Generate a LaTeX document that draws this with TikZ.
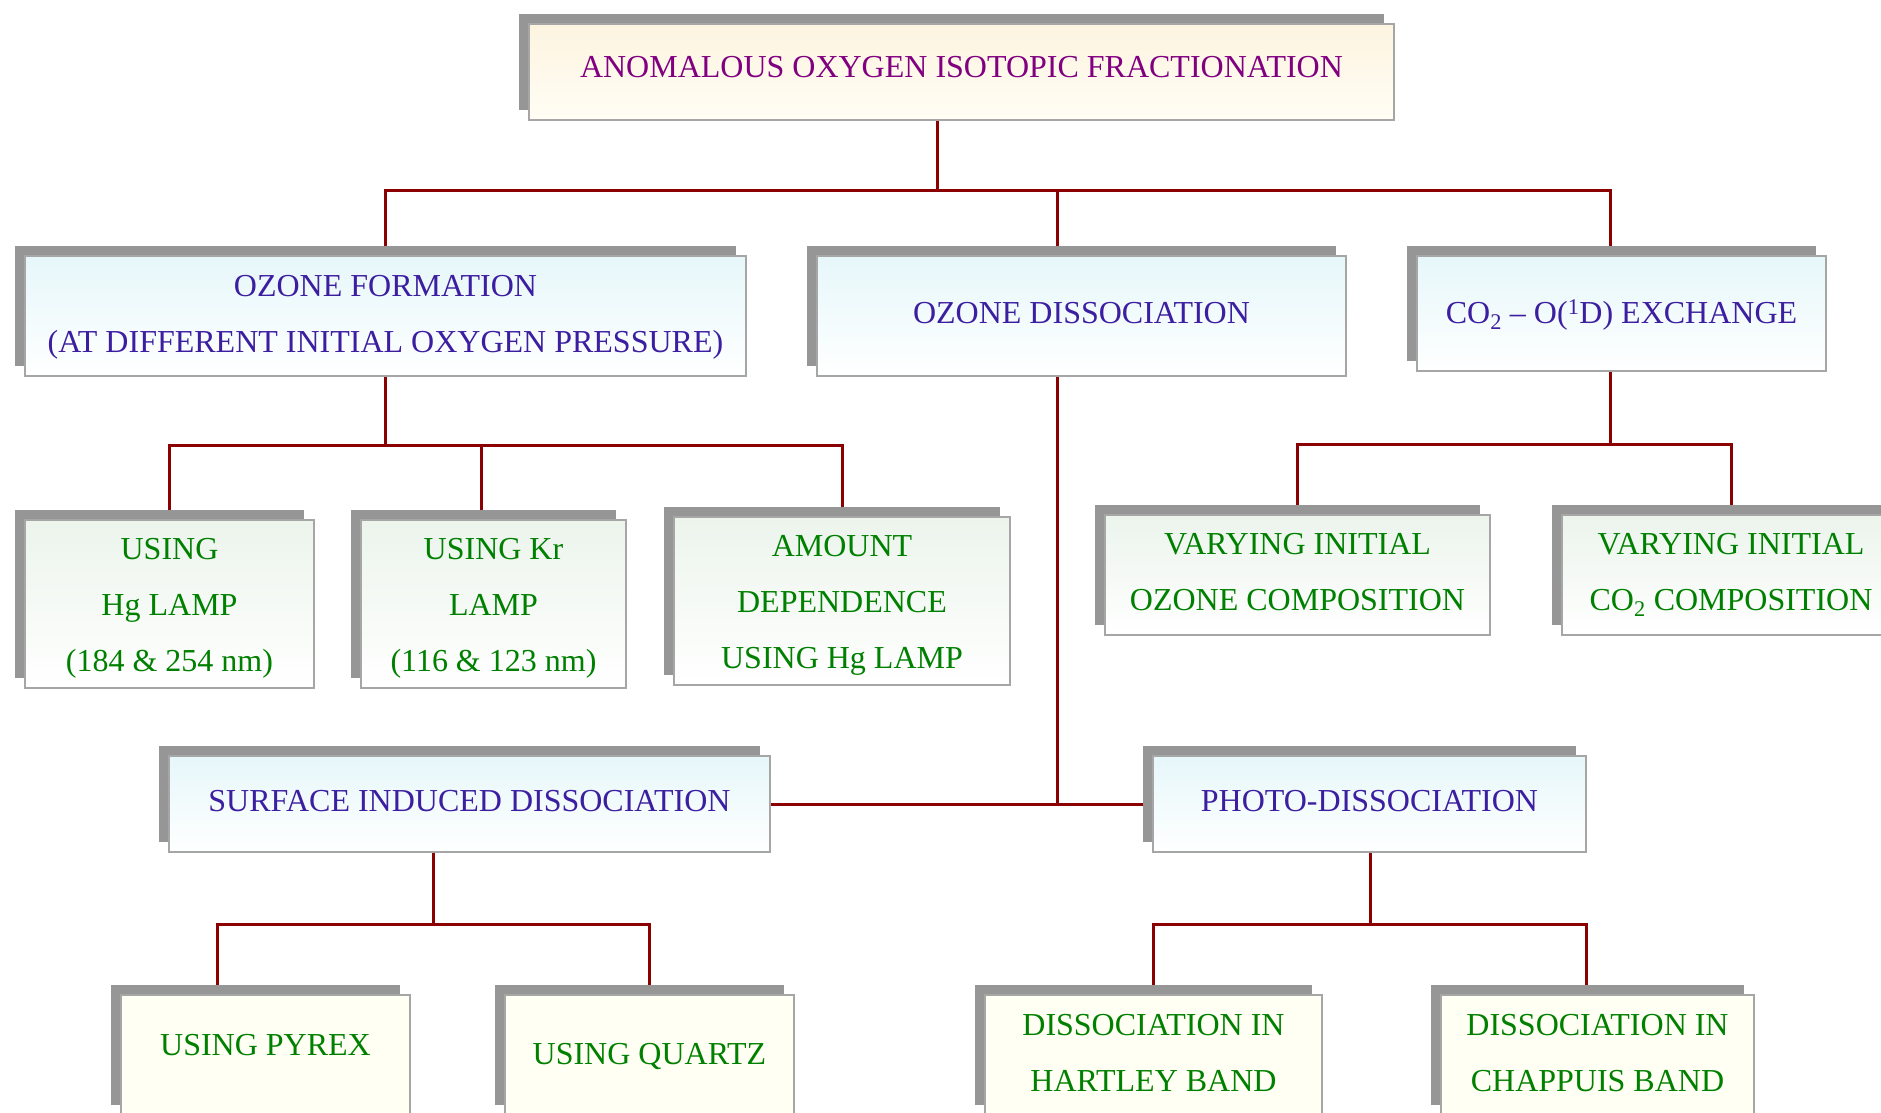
\documentclass[tikz,border=0pt]{standalone}
\usepackage{fontspec}
\setmainfont{Liberation Serif}
\usetikzlibrary{shadows,backgrounds}
\definecolor{connred}{RGB}{139,0,0}
\definecolor{bord}{RGB}{166,166,166}
\definecolor{shad}{RGB}{150,150,150}
\definecolor{tpurple}{RGB}{128,0,128}
\definecolor{tblue}{RGB}{60,30,160}
\definecolor{tgreen}{RGB}{0,128,0}
\definecolor{creamtop}{RGB}{253,244,224}
\definecolor{creambot}{RGB}{255,253,245}
\definecolor{cyantop}{RGB}{230,247,250}
\definecolor{greentop}{RGB}{236,244,236}
\definecolor{ivory}{RGB}{255,255,243}
\tikzset{
  conn/.style={draw=connred, line width=3pt},
  boxwh/.style 2 args={minimum width=#1pt, minimum height=#2pt},
  tb/.style={text height=#1pt, text depth=0pt},
  basebox/.style={rectangle, draw=bord, line width=1.5pt, inner sep=0pt, align=center,
    font=\fontsize{32}{56}\selectfont,
    drop shadow={shadow xshift=-10pt, shadow yshift=10pt, fill=shad, opacity=1}},
  topbox/.style={basebox, top color=creamtop, bottom color=creambot, text=tpurple},
  midbox/.style={basebox, top color=cyantop, bottom color=white, text=tblue},
  leafbox/.style={basebox, top color=greentop, bottom color=white, text=tgreen},
  lowbox/.style={basebox, fill=ivory, text=tgreen},
}
\begin{document}
\begin{tikzpicture}[x=1pt,y=-1pt]
\useasboundingbox (0,0) rectangle (1881,1112);
\clip (0,0) rectangle (1881,1112);

% level 1
\node[topbox, boxwh={865}{96}, tb=11] (top) at (961.5,72) {ANOMALOUS OXYGEN ISOTOPIC FRACTIONATION};

% level 2
\node[midbox, boxwh={721}{120}, tb=73] (of) at (385.5,316) {OZONE FORMATION\\(AT DIFFERENT INITIAL OXYGEN PRESSURE)};
\node[midbox, boxwh={529}{120}, tb=15] (od) at (1081.5,316) {OZONE DISSOCIATION};
\node[midbox, boxwh={409}{115}, tb=20] (co2) at (1621.5,313.5) {CO\textsubscript{2} -- O(\textsuperscript{1}D) EXCHANGE};

% level 3
\node[leafbox, boxwh={289}{168}, tb=135] (hg) at (169.5,604) {USING\\Hg LAMP\\(184 \& 254 nm)};
\node[leafbox, boxwh={265}{168}, tb=135] (kr) at (493.5,604) {USING Kr\\LAMP\\(116 \& 123 nm)};
\node[leafbox, boxwh={336}{168}, tb=134] (am) at (842,601) {AMOUNT\\DEPENDENCE\\USING Hg LAMP};
\node[leafbox, boxwh={385}{120}, tb=71] (oc) at (1297.5,575) {VARYING INITIAL\\OZONE COMPOSITION};
\node[leafbox, boxwh={338}{120}, tb=71] (cc) at (1731,575) {VARYING INITIAL\\CO\textsubscript{2} COMPOSITION};

% dissociation branches
\node[midbox, boxwh={601}{96}, tb=14] (si) at (469.5,804) {SURFACE INDUCED DISSOCIATION};
\node[midbox, boxwh={433}{96}, tb=14] (ph) at (1369.5,804) {PHOTO-DISSOCIATION};

% bottom
\node[lowbox, boxwh={289}{120}, tb=1] (py) at (265.5,1055) {USING PYREX};
\node[lowbox, boxwh={289}{120}, tb=18] (qu) at (649.5,1055) {USING QUARTZ};
\node[lowbox, boxwh={337}{120}, tb=73] (ha) at (1153.5,1055) {DISSOCIATION IN\\HARTLEY BAND};
\node[lowbox, boxwh={313}{120}, tb=73] (ch) at (1597.5,1055) {DISSOCIATION IN\\CHAPPUIS BAND};

\begin{scope}[on background layer]
\fill[white] (0,0) rectangle (1881,1112);
\coordinate (a0) at (937,190);
\coordinate (a2) at (1057,190);
\coordinate (a3) at (1610,190);
\draw[conn] (a0 |- top.south) -- (a0);
\draw[conn] (of.north) |- (a3) -- (a3 |- co2.north);
\draw[conn] (a2) -- (a2 |- od.north);

\coordinate (b0) at (385.5,445);
\coordinate (b2) at (481,445);
\draw[conn] (of.south) -- (b0);
\draw[conn] (hg.north) |- (b0) -- (b0 -| am.north) -- (am.north);
\draw[conn] (b2) -- (b2 |- kr.north);

\coordinate (c0) at (1610,444);
\draw[conn] (c0 |- co2.south) -- (c0);
\draw[conn] (oc.north) |- (c0) -| (cc.north);

\coordinate (d0) at (1057,804);
\draw[conn] (d0 |- od.south) -- (d0);
\draw[conn] (si.east) -- (ph.west);

\coordinate (e0) at (433,924);
\coordinate (e1) at (217,924);
\coordinate (e2) at (649,924);
\draw[conn] (e0 |- si.south) -- (e0);
\draw[conn] (e1 |- py.north) -- (e1) -- (e2) -- (e2 |- qu.north);

\coordinate (f0) at (1370,924);
\coordinate (f2) at (1586,924);
\draw[conn] (f0 |- ph.south) -- (f0);
\draw[conn] (ha.north) |- (f0) -- (f2) -- (f2 |- ch.north);
\end{scope}
\end{tikzpicture}
\end{document}
